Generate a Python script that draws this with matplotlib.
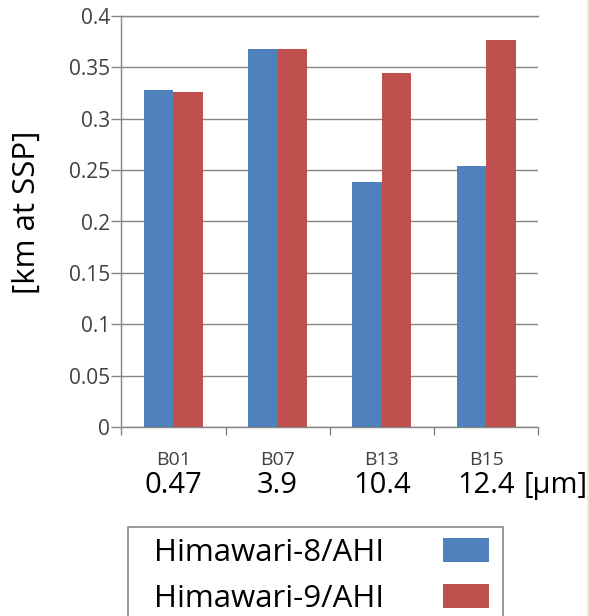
import numpy as np
import matplotlib
matplotlib.use("Agg")
import matplotlib.pyplot as plt
from matplotlib.patches import Rectangle

plt.rcParams['font.family'] = ['Open Sans', 'DejaVu Sans']

bands = ["B01", "B07", "B13", "B15"]
wavelengths = ["0.47", "3.9", "10.4", "12.4"]
h8_values = [0.328, 0.368, 0.238, 0.254]
h9_values = [0.326, 0.368, 0.344, 0.376]
series_names = ["Himawari-8/AHI", "Himawari-9/AHI"]

blue = "#4F81BD"
red = "#C0504D"
axis_grey = "#868686"

W, H = 589, 616
fig = plt.figure(figsize=(W / 100, H / 100), dpi=100)
ax = fig.add_axes([121.3 / W, 1 - 427.3 / H, 417 / W, 411.6 / H])

x = np.arange(len(bands))
bw = 0.283
b8 = ax.bar(x - bw / 2, h8_values, bw, color=blue, zorder=3)
b9 = ax.bar(x + bw / 2, h9_values, bw, color=red, zorder=3)

ax.set_xlim(-0.5, len(bands) - 0.5)
ax.set_ylim(0, 0.4)
ax.set_yticks(np.arange(0, 0.401, 0.05))
ax.set_yticklabels(["0", "0.05", "0.1", "0.15", "0.2", "0.25", "0.3", "0.35", "0.4"])
ax.yaxis.grid(True, color=axis_grey, linewidth=1.0, zorder=0)

# category boundaries carry the tick marks
ax.set_xticks(np.arange(-0.5, len(bands), 1.0))
ax.set_xticklabels([])
ax.tick_params(axis='x', length=6, width=1, color=axis_grey, direction='out')
ax.tick_params(axis='y', length=7, width=1, color=axis_grey, direction='out',
               labelsize=15, labelcolor='#404040', pad=1)

ax.spines['right'].set_visible(False)
for side in ['left', 'bottom', 'top']:
    ax.spines[side].set_color(axis_grey)
    ax.spines[side].set_linewidth(1.0)

tr = ax.get_xaxis_transform()
for i, (b, wl) in enumerate(zip(bands, wavelengths)):
    ax.text(i, -0.0794, b, transform=tr, ha='center', va='center',
            fontsize=14, color='#404040')
    t = ax.text(i, -0.142, wl, transform=tr, ha='center', va='center',
                fontsize=21, color='black')
ax.annotate("[μm]", xy=(1, 0.5), xycoords=t, xytext=(6, 0),
            textcoords='offset points', ha='left', va='center',
            fontsize=21, color='black', annotation_clip=False)

fig.text(27 / W, 1 - 212 / H, "[km at SSP]", rotation=90, ha='center',
         va='center', fontsize=22.5, color='black')

# legend box runs past the bottom edge
fig.patches.append(Rectangle((128 / W, -0.1), (503 - 128) / W, 1 - 527 / H + 0.1,
                             transform=fig.transFigure, fill=False,
                             edgecolor=axis_grey, linewidth=1.2))
leg = fig.legend([b8, b9], series_names, loc='upper left',
                 bbox_to_anchor=(154 / W, 1 - 538 / H), frameon=False,
                 markerfirst=False, fontsize=22.5, handlelength=1.48,
                 handleheight=0.8, handletextpad=1.87, labelspacing=0.52,
                 borderpad=0, borderaxespad=0)

fig.patches.append(Rectangle((586.5 / W, 0), 2.5 / W, 1, transform=fig.transFigure,
                             facecolor='#EEEBE0', edgecolor='none'))

fig.savefig("out.png", dpi=100)
